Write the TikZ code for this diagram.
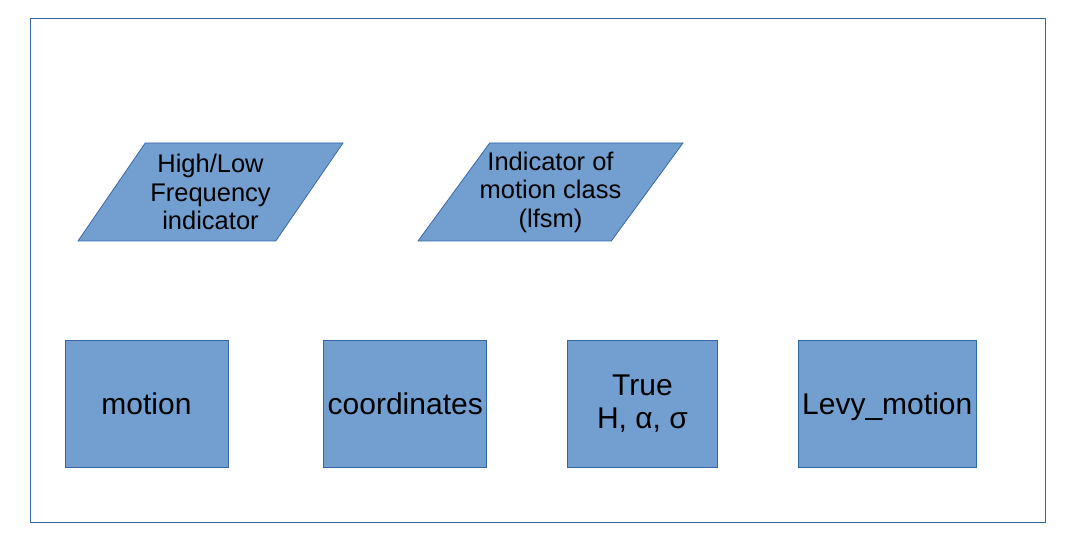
\documentclass[tikz,border=0pt]{standalone}
\usepackage{fontspec}
\setmainfont{Liberation Sans}
\usepackage{xcolor}
\usetikzlibrary{positioning,shapes.geometric}
\definecolor{boxfill}{HTML}{729FCF}
\definecolor{boxline}{HTML}{3465A4}
\tikzstyle{io_box}=[trapezium, trapezium left angle=48.4, trapezium right angle=131.6, trapezium stretches body, minimum width=265pt, minimum height=98pt, inner ysep=0pt, inner xsep=-12pt, fill=boxfill, draw=boxline, line width=0.75pt, align=center, font=\fontsize{25.5}{28.5}\selectfont]
\tikzstyle{var_box}=[rectangle, minimum height=127pt, inner sep=0pt, fill=boxfill, draw=boxline, line width=0.75pt, align=center, font=\fontsize{30}{33}\selectfont]
\tikzstyle{frame_line}=[draw=boxline, line width=0.75pt]

\begin{document}
\begin{tikzpicture}[x=1pt, y=-1pt]
        \useasboundingbox (0,0) rectangle (1080,540);
        \draw[style=frame_line] (30,18) rectangle (1045,522);
        % indicators
        \node[style=io_box] (freq) at (210.5,192) {High/Low\\Frequency\\indicator};
        \node[style=io_box] (class) at (550.5,192) {Indicator of\\motion class\\(lfsm)};
        % outputs
        \node[style=var_box, minimum width=163pt] (motion) at (146.5,403.5) {motion};
        \node[style=var_box, minimum width=163pt, right=95pt of motion] (coords) {coordinates};
        \node[style=var_box, minimum width=150pt, right=80pt of coords] (params) {True\\H, α, σ};
        \node[style=var_box, minimum width=178pt, right=80pt of params, text depth=0pt] (levy) {Levy\_motion};
    \end{tikzpicture}
\end{document}
